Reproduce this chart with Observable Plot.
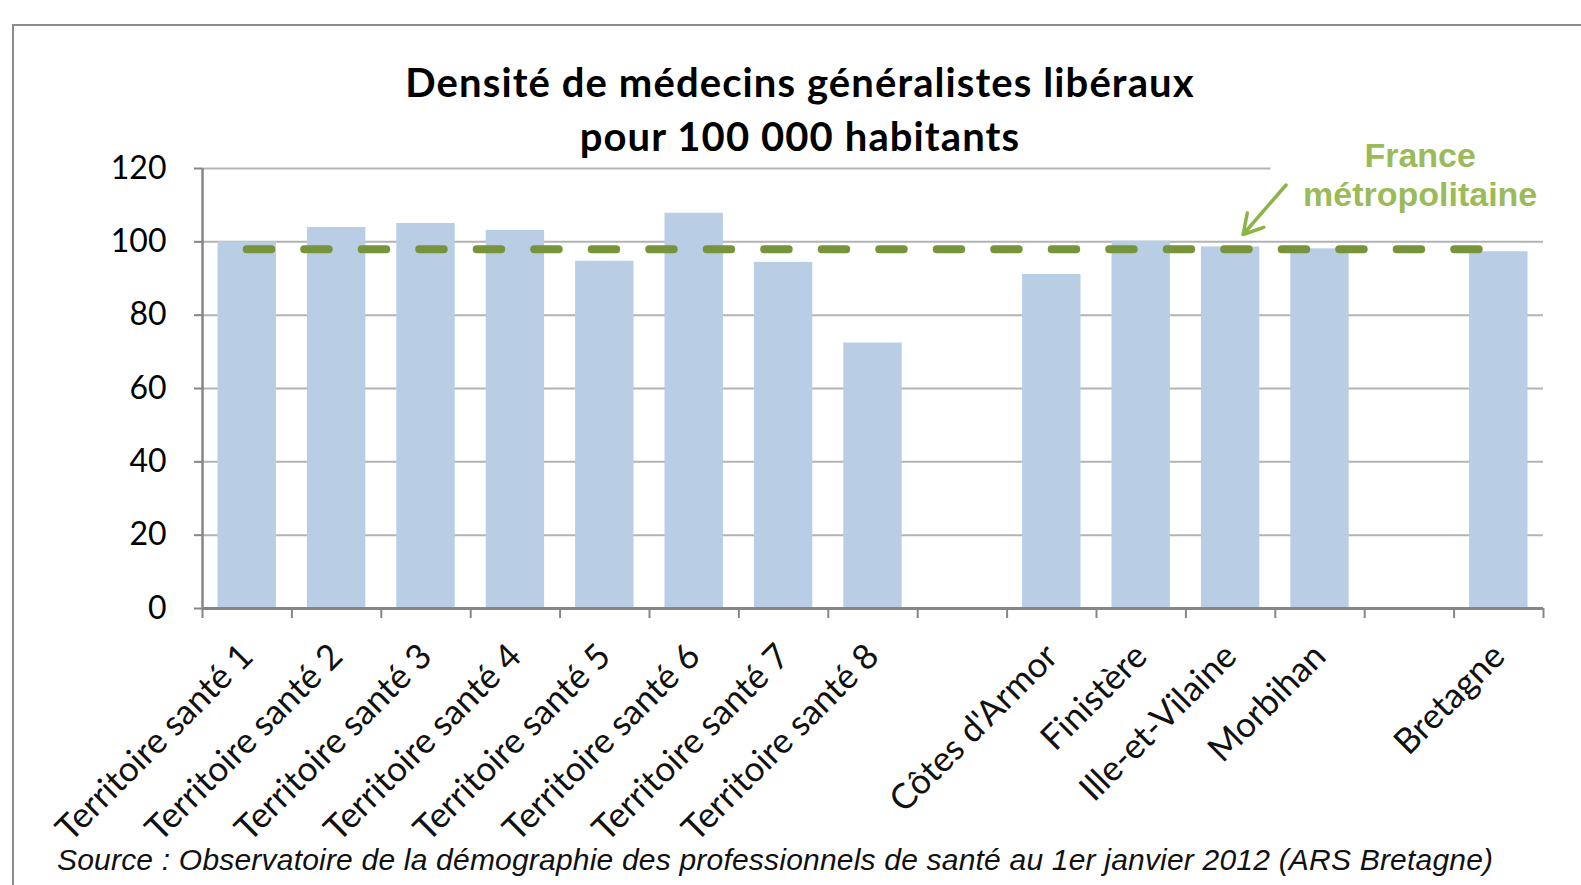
<!DOCTYPE html>
<html>
<head>
<meta charset="utf-8">
<script src="https://cdn.jsdelivr.net/npm/d3@7"></script>
<script src="https://cdn.jsdelivr.net/npm/@observablehq/plot@0.6"></script>
<style>
  html, body { margin: 0; padding: 0; background: #fff; overflow: hidden; }
  #wrap { position: relative; width: 1581px; height: 885px; }
  #frame { position: absolute; left: 12px; top: 24px; right: -4px; bottom: -4px;
           border-left: 2px solid #8c8c8c; border-top: 2px solid #8c8c8c; }
  #title { position: absolute; left: 200px; width: 1200px; top: 55px; text-align: center;
           font-family: Lato, "Open Sans", sans-serif; font-weight: 700; font-size: 40px;
           letter-spacing: 1.1px; line-height: 54px; color: #000; }
  #source { position: absolute; left: 57px; top: 845px; white-space: nowrap;
            font-family: "Liberation Sans", Arial, sans-serif;
            font-style: italic; font-size: 30px; letter-spacing: 0.2px; line-height: 30px; color: #111; }
  #chart { position: absolute; left: 0; top: 0; }
</style>
</head>
<body>
<div id="wrap">
  <div id="frame"></div>
  <div id="chart"></div>
  <div id="title">Densité de médecins généralistes libéraux<br>pour 100 000 habitants</div>
  <div id="source">Source : Observatoire de la démographie des professionnels de santé au 1er janvier 2012 (ARS Bretagne)</div>
</div>
<script>
// ---- data ----
const categories = [
  "Territoire santé 1", "Territoire santé 2", "Territoire santé 3", "Territoire santé 4",
  "Territoire santé 5", "Territoire santé 6", "Territoire santé 7", "Territoire santé 8",
  "", "Côtes d'Armor", "Finistère", "Ille-et-Vilaine", "Morbihan", "", "Bretagne"
];
const values = [100, 103.9, 105, 103.1, 94.7, 107.8, 94.4, 72.4, null, 91.1, 100.2, 98.6, 98.1, null, 97.3];
const franceMetro = 98;
const yTicks = [0, 20, 40, 60, 80, 100, 120];
const annotationLabel = "France\nmétropolitaine";
const annotationPos = [{x: 13.62, y: 118.5}];
const annotationArrow = [{x1: 12.12, y1: 115.5, x2: 11.64, y2: 102}];
const referenceLineSpan = {x1: 0.5, x2: 14.3};
const top120Span = {x1: 0, x2: 11.95};

const data = categories
  .map((category, i) => ({i, category, value: values[i]}))
  .filter(d => d.value != null);
const labelTicks = data.map(d => d.i + 0.5);
const boundaryTicks = d3.range(categories.length + 1);

const chart = Plot.plot({
  width: 1581,
  height: 885,
  marginLeft: 202,
  marginRight: 38,
  marginTop: 168,
  marginBottom: 277,
  x: {type: "linear", domain: [0, categories.length], axis: null},
  y: {domain: [0, 120], axis: null},
  style: {fontFamily: "Lato, 'Open Sans', sans-serif", background: "transparent", color: "#000"},
  marks: [
    Plot.ruleY(yTicks.filter(v => v > 0 && v < 120), {stroke: "#b3b3b3", strokeWidth: 2}),
    Plot.ruleY([120], {...top120Span, stroke: "#b3b3b3", strokeWidth: 2}),
    Plot.rect(data, {x1: "i", x2: d => d.i + 1, y1: 0, y2: "value", insetLeft: 15.5, insetRight: 15.5, fill: "#B9CDE5"}),
    Plot.ruleY([franceMetro], {...referenceLineSpan, stroke: "#77933C", strokeWidth: 8,
      strokeDasharray: "24.5,33", strokeLinecap: "round"}),
    Plot.ruleX([0], {stroke: "#868686", strokeWidth: 2.5}),
    Plot.ruleY([0], {stroke: "#868686", strokeWidth: 3}),
    Plot.axisY({ticks: yTicks, tickSize: 8, tickPadding: 28, fontSize: 32, stroke: "#868686", strokeWidth: 2, fill: "#000", label: null}),
    Plot.axisX({ticks: boundaryTicks, tickSize: 10, tickFormat: () => "", stroke: "#868686", strokeWidth: 2, label: null}),
    Plot.axisX({ticks: labelTicks, tickSize: 0, tickPadding: 42, tickRotate: -45,
      tickFormat: v => categories[Math.floor(v)], fontSize: 35, fill: "#111", label: null}),
    Plot.arrow(annotationArrow, {x1: "x1", y1: "y1", x2: "x2", y2: "y2", stroke: "#8DB446",
      strokeWidth: 3.5, headLength: 22, headAngle: 60}),
    Plot.text(annotationPos, {x: "x", y: "y", text: () => annotationLabel, fill: "#9BBB59",
      fontSize: 34, fontWeight: 700, lineHeight: 1.13,
      fontFamily: "'Liberation Sans Narrow', 'Liberation Sans', Arial, sans-serif"})
  ]
});
document.getElementById("chart").appendChild(chart);
</script>
</body>
</html>
